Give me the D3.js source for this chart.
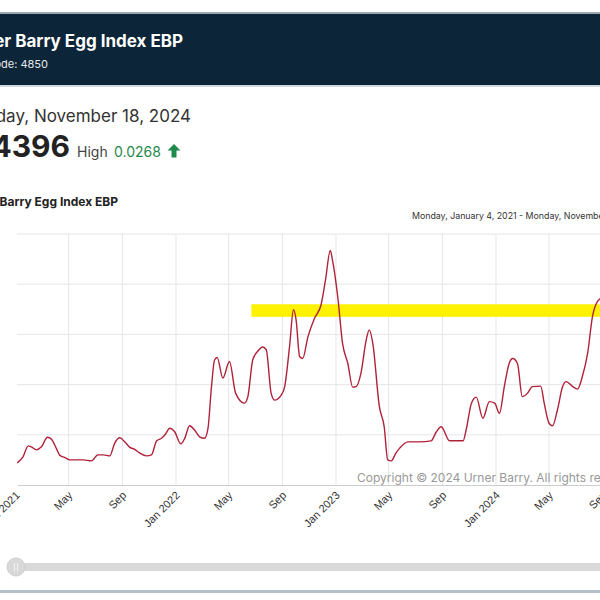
<!DOCTYPE html>
<html><head><meta charset="utf-8">
<script src="https://cdn.jsdelivr.net/npm/d3@7"></script>
<style>html,body{margin:0;padding:0;background:#fff;overflow:hidden}svg{display:block}</style>
</head><body><svg id="c" width="600" height="600"></svg>
<script>
const seriesName = "Urner Barry Egg Index EBP";
const itemCode = "Item Code: 4850";
const lastDateLabel = "Monday, November 18, 2024";
const lastValueLabel = "3.4396";
const changeLabel = "0.0268";
const rangeLabel = "Monday, January 4, 2021 - Monday, November 18, 2024";
const copyright = "Copyright \u00a9 2024 Urner Barry. All rights reserved.";

const dates = ["2021-01-04","2021-01-17","2021-01-29","2021-02-05","2021-02-17","2021-02-28","2021-03-14","2021-03-23","2021-04-03","2021-04-11","2021-04-22","2021-05-04","2021-05-19","2021-06-03","2021-06-22","2021-07-07","2021-07-19","2021-08-03","2021-08-14","2021-08-26","2021-09-06","2021-09-18","2021-09-29","2021-10-10","2021-10-26","2021-11-06","2021-11-18","2021-11-29","2021-12-07","2021-12-18","2021-12-29","2022-01-12","2022-01-21","2022-02-01","2022-02-12","2022-02-24","2022-03-07","2022-03-15","2022-03-23","2022-03-30","2022-04-05","2022-04-18","2022-05-03","2022-05-17","2022-06-06","2022-06-14","2022-06-25","2022-07-06","2022-07-18","2022-07-26","2022-08-06","2022-08-14","2022-08-29","2022-09-06","2022-09-17","2022-09-26","2022-10-02","2022-10-10","2022-10-17","2022-10-29","2022-11-13","2022-11-28","2022-12-08","2022-12-19","2022-12-24","2023-01-05","2023-01-16","2023-01-28","2023-02-08","2023-02-16","2023-02-27","2023-03-11","2023-03-18","2023-03-26","2023-04-10","2023-04-21","2023-04-29","2023-05-07","2023-05-18","2023-05-26","2023-06-14","2023-07-11","2023-08-06","2023-08-18","2023-08-29","2023-09-17","2023-10-18","2023-10-25","2023-11-06","2023-11-17","2023-12-02","2023-12-17","2023-12-29","2024-01-09","2024-01-20","2024-01-31","2024-02-08","2024-02-19","2024-03-01","2024-03-13","2024-03-24","2024-04-12","2024-04-20","2024-05-01","2024-05-09","2024-05-20","2024-06-01","2024-06-09","2024-06-24","2024-07-05","2024-07-16","2024-07-28","2024-08-08","2024-08-19","2024-08-23","2024-09-05","2024-10-01","2024-11-18"];
const values = [0.44,0.56,0.78,0.76,0.70,0.76,0.95,0.91,0.73,0.59,0.55,0.50,0.50,0.50,0.48,0.60,0.60,0.58,0.83,0.94,0.86,0.75,0.71,0.64,0.58,0.60,0.88,0.93,1.00,1.13,1.06,0.82,0.93,1.18,1.10,0.96,0.93,1.13,1.96,2.49,2.54,2.13,2.46,1.83,1.63,1.76,2.49,2.66,2.75,2.69,1.83,1.69,1.79,1.96,2.75,3.49,3.29,2.56,2.52,2.95,3.32,3.59,4.08,4.67,4.48,3.75,2.82,2.42,1.95,1.96,2.23,2.89,3.09,2.82,1.56,1.16,0.50,0.48,0.64,0.73,0.86,0.86,0.88,1.06,1.16,0.88,0.88,1.10,1.63,1.75,1.33,1.66,1.63,1.43,1.96,2.42,2.52,2.42,1.76,1.83,1.96,1.97,1.63,1.23,1.18,1.49,1.96,2.06,1.96,1.91,2.16,2.62,3.35,3.65,3.69,3.75,3.60,3.44];
const yTicks = [0,1,2,3,4,5];
const bandStart = "2022-06-22";
const bandRange = [3.35, 3.60];

const parse = d3.timeParse("%Y-%m-%d");
const data = dates.map((d,i)=>({date:parse(d), value:values[i]}));
const svg = d3.select("#c");
const FONT = "Inter, 'Liberation Sans', Arial, sans-serif";

// page chrome
svg.append("rect").attr("x",0).attr("y",0).attr("width",600).attr("height",600).attr("fill","#fff");
svg.append("rect").attr("x",0).attr("y",12).attr("width",600).attr("height",2).attr("fill","#9aa6b0");
svg.append("rect").attr("x",0).attr("y",14).attr("width",600).attr("height",71).attr("fill","#0d2538");
svg.append("rect").attr("x",0).attr("y",85).attr("width",600).attr("height",2).attr("fill","#d3d8dc");
svg.append("text").attr("x",183).attr("y",47).attr("text-anchor","end").attr("font-family",FONT)
  .attr("font-weight",700).attr("font-size",17).attr("fill","#fff").text(seriesName);
svg.append("text").attr("x",48).attr("y",68).attr("text-anchor","end").attr("font-family",FONT)
  .attr("font-size",11).attr("fill","#e4e9ee").text(itemCode);

svg.append("text").attr("x",191).attr("y",122).attr("text-anchor","end").attr("font-family",FONT)
  .attr("font-size",17).attr("fill","#333").text(lastDateLabel);
svg.append("text").attr("x",70).attr("y",157).attr("text-anchor","end").attr("font-family",FONT)
  .attr("font-weight",700).attr("font-size",30).attr("fill","#222").text(lastValueLabel);
svg.append("text").attr("x",77).attr("y",157).attr("font-family",FONT)
  .attr("font-size",14).attr("fill","#444").text("High");
svg.append("text").attr("x",114).attr("y",157).attr("font-family",FONT)
  .attr("font-size",14).attr("fill","#1f8a4c").text(changeLabel);
svg.append("path").attr("d","M174,144 L180.5,150.5 L176.5,150.5 L176.5,157.5 L171.5,157.5 L171.5,150.5 L167.5,150.5 Z")
  .attr("fill","#1f8a4c");

// chart title
svg.append("text").attr("x",118).attr("y",206).attr("text-anchor","end").attr("font-family",FONT)
  .attr("font-weight",700).attr("font-size",12).attr("fill","#222").text(seriesName);
svg.append("text").attr("x",412).attr("y",219).attr("font-family",FONT)
  .attr("font-size",8.8).attr("fill","#333").text(rangeLabel);

// scales
const x0 = parse("2021-01-04"), x1 = parse("2024-11-18");
const pxPerDay = 160/365;
const x = d3.scaleTime().domain([x0,x1]).range([17.3, 17.3 + d3.timeDay.count(x0,x1)*pxPerDay]);
const y = d3.scaleLinear().domain([0,5]).range([485,234]);

const g = svg.append("g");
// horizontal grid
g.selectAll("line.hg").data(yTicks.filter(v=>v>0)).join("line")
  .attr("x1",17).attr("x2",650).attr("y1",d=>y(d)).attr("y2",d=>y(d))
  .attr("stroke","#e6e6e6").attr("stroke-width",1);
// vertical grid
const xTicks = d3.timeMonth.every(4).range(parse("2021-01-01"), parse("2024-12-01"));
g.selectAll("line.vg").data(xTicks.filter(d=>x(d)>20)).join("line")
  .attr("x1",d=>x(d)).attr("x2",d=>x(d)).attr("y1",234).attr("y2",485)
  .attr("stroke","#e6e6e6").attr("stroke-width",1);

// copyright
g.append("text").attr("x",357).attr("y",482).attr("font-family",FONT)
  .attr("font-size",12).attr("fill","#999").text(copyright);

// band
g.append("rect").attr("x",x(parse(bandStart))).attr("y",y(bandRange[1]))
  .attr("width",700).attr("height",y(bandRange[0])-y(bandRange[1])).attr("fill","#fff200");

// x axis
const xAxis = d3.axisBottom(x).tickValues(xTicks).tickSize(0)
  .tickFormat(d=>d.getMonth()===0 ? d3.timeFormat("%b %Y")(d) : d3.timeFormat("%b")(d));
const ax = g.append("g").attr("transform","translate(0,485)").call(xAxis);
ax.select(".domain").attr("stroke","#ccc");
ax.selectAll("text").attr("font-family","'Liberation Sans', Arial, sans-serif").attr("font-size",11)
  .attr("fill","#333").attr("text-anchor","end").attr("dy",0).attr("y",0)
  .attr("transform","translate(4,11) rotate(-45)");

// y axis (labels fall off the left edge of the crop)
const yAxis = d3.axisLeft(y).tickValues(yTicks).tickSize(0);
const ay = g.append("g").attr("transform","translate(-4,0)").call(yAxis);
ay.select(".domain").remove();

// line
const line = d3.line().x(d=>x(d.date)).y(d=>y(d.value)).curve(d3.curveMonotoneX);
g.append("path").datum(data).attr("d",line).attr("fill","none")
  .attr("stroke","#b0223a").attr("stroke-width",1.4).attr("stroke-linejoin","round");

// navigator slider
svg.append("rect").attr("x",25).attr("y",563).attr("width",600).attr("height",8).attr("fill","#d9d9d9");
svg.append("circle").attr("cx",16).attr("cy",567).attr("r",9).attr("fill","#d8d8d8").attr("stroke","#cfcfcf");
svg.append("line").attr("x1",14.5).attr("x2",14.5).attr("y1",563).attr("y2",571).attr("stroke","#f2f2f2");
svg.append("line").attr("x1",17.5).attr("x2",17.5).attr("y1",563).attr("y2",571).attr("stroke","#f2f2f2");
svg.append("rect").attr("x",0).attr("y",590).attr("width",600).attr("height",3).attr("fill","#b3c0ca");
</script></body></html>
